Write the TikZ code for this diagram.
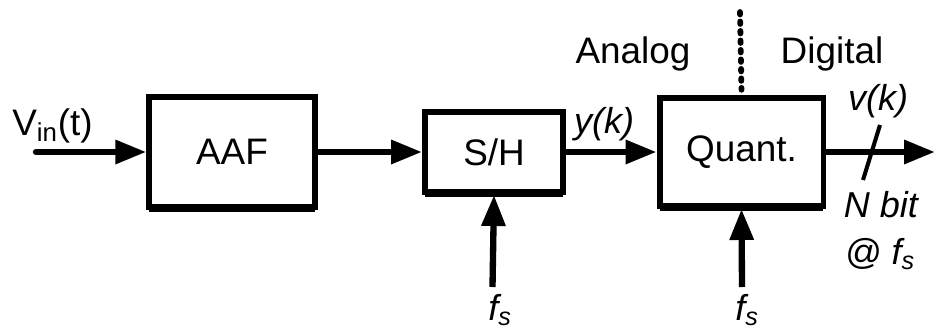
\documentclass[tikz,border=0pt]{standalone}
\usepackage{fontspec}
\setmainfont{Liberation Sans}
\usetikzlibrary{arrows.meta,shadows}
\newcommand\blkfont{\fontsize{21pt}{25pt}\selectfont}
\newcommand\itfont{\fontsize{20.5pt}{24pt}\selectfont\itshape}
\tikzset{
  blk/.style={draw, rectangle, line width=3.4pt, fill=white, inner sep=0pt,
    font=\blkfont,
    drop shadow={shadow xshift=0pt, shadow yshift=-2.6pt, fill=black, opacity=1}},
  sig/.style={line width=3.6pt, -{Triangle[length=0.62cm, width=0.46cm]}},
  lbl/.style={inner sep=0pt, font=\itfont},
  txt/.style={inner sep=0pt, font=\blkfont},
  divider/.style={line width=3.3pt, dash pattern=on 1.4pt off 4pt, line cap=round},
}
\begin{document}
\begin{tikzpicture}[x=0.02cm, y=-0.02cm]
  \useasboundingbox (0,0) rectangle (936,331);

  % processing blocks
  \node[blk, minimum width=3.31cm, minimum height=2.2cm]  (aaf) at (232,152)   {AAF};
  \node[blk, minimum width=2.76cm, minimum height=1.6cm]  (sh)  at (494,152)   {S/H};
  \node[blk, minimum width=3.28cm, minimum height=2.16cm] (q)   at (741.5,152) {Quant.};

  % free ends of the signal and clock lines
  \coordinate (in)   at (36,152);
  \coordinate (out)  at (935,152);
  \coordinate (ck1)  at (492.5,287);
  \coordinate (ck2)  at (742,287);
  \coordinate (sl1)  at (880,125);
  \coordinate (sl2)  at (863,180);
  \coordinate (dv)   at (740,12);

  % signal path
  \draw[sig, line cap=round] (in) -- (aaf.west);
  \draw[sig] (aaf.east) -- (sh.west);
  \draw[sig] (sh.east) -- (q.west);
  \draw[sig] (q.east) -- (out);

  % bus width mark on the output
  \draw[line width=2.3pt] (sl1) -- (sl2);

  % sampling clocks
  \draw[sig] (ck1) -- (sh.south);
  \draw[sig] (ck2) -- (q.south);

  % analog / digital boundary
  \draw[divider] (dv) -- ([yshift=3pt]q.north);

  % labels
  \node[txt, anchor=base west] (vin) at (12,135) {V\textsubscript{in}(t)};
  \node[lbl] (yk) at (604,124) {y(k)};
  \node[lbl] (vk) at (878,101) {v(k)};
  \node[lbl] (nb) at (881,205) {N bit};
  \node[lbl] (at) at (880,254) {@ f\textsubscript{s}};
  \node[txt, anchor=base] (an) at (633,64) {Analog};
  \node[txt, anchor=base] (dg) at (832,64) {Digital};
  \node[lbl, anchor=base west] (fs1) at (488,320) {f\textsubscript{s}};
  \node[lbl, anchor=base west] (fs2) at (735,320) {f\textsubscript{s}};
\end{tikzpicture}
\end{document}
